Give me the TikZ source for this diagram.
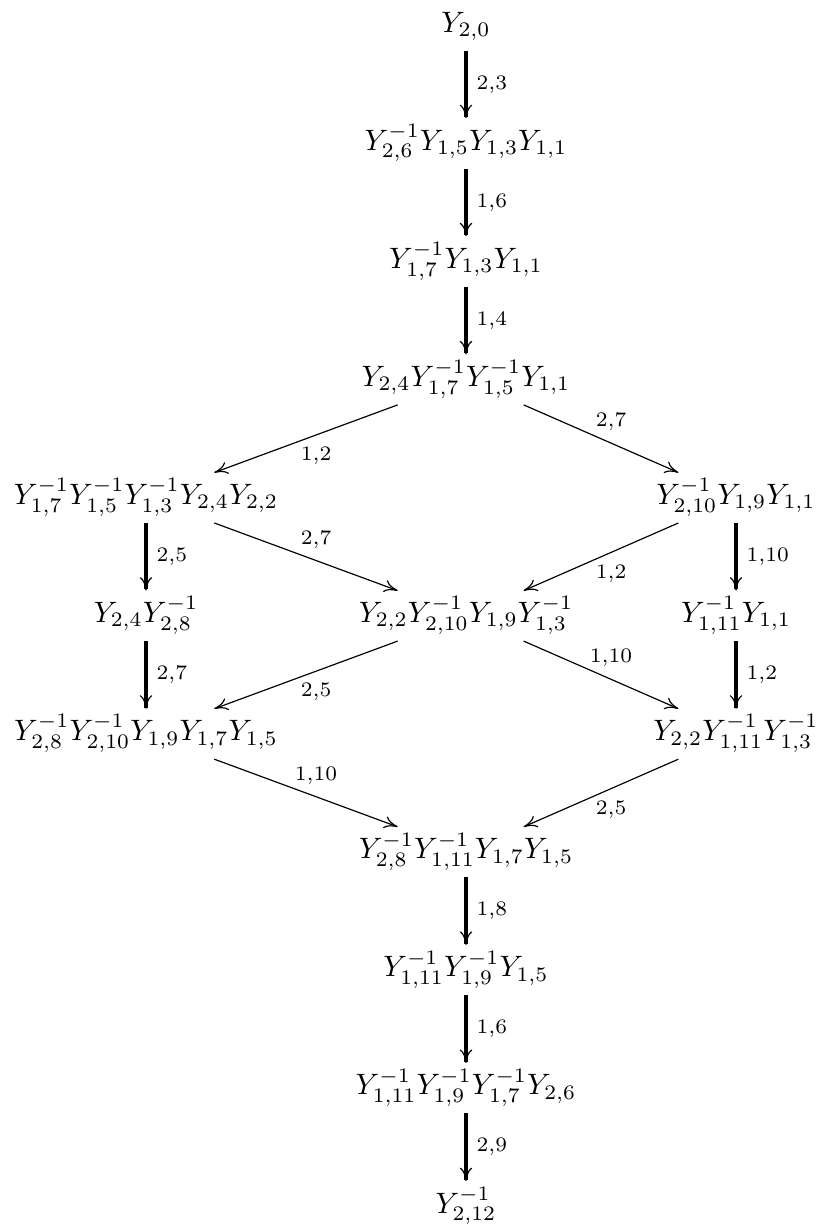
\documentclass[tikz,border=0pt]{standalone}
\usetikzlibrary{arrows.meta}
\begin{document}
\begin{tikzpicture}[x=0.339pt,y=-0.339pt,
  ent/.style={anchor=base, inner sep=0pt, outer sep=0pt, text height=10.8pt, text depth=6.3pt},
  tip/.style={-{Computer Modern Rightarrow[length=4.6pt, width=4.2pt, line width=0.4pt 0 1]}},
  vert/.style={tip, line width=1.15pt},
  diag/.style={tip, line width=0.4pt},
  lab/.style={inner sep=0pt},
  labr/.style={lab, midway, anchor=west, xshift=3pt},
  labb/.style={lab, midway, anchor=center, xshift=3.4pt, yshift=-5.8pt},
  laba/.style={lab, midway, anchor=center, xshift=3.4pt, yshift=5.8pt}]
\useasboundingbox (0,0) rectangle (817,1229);
% nodes (x, baseline)
\node[ent] (Y0) at (466,32) {$Y_{2,0}$};
\node[ent] (n1) at (466,150.1) {$Y_{2,6}^{-1}Y_{1,5}Y_{1,3}Y_{1,1}$};
\node[ent] (n2) at (466,268.2) {$Y_{1,7}^{-1}Y_{1,3}Y_{1,1}$};
\node[ent] (n3) at (466,386.3) {$Y_{2,4}Y_{1,7}^{-1}Y_{1,5}^{-1}Y_{1,1}$};
\node[ent] (L1) at (146,504.4) {$Y_{1,7}^{-1}Y_{1,5}^{-1}Y_{1,3}^{-1}Y_{2,4}Y_{2,2}$};
\node[ent] (R1) at (736,504.4) {$Y_{2,10}^{-1}Y_{1,9}Y_{1,1}$};
\node[ent] (L2) at (146,622.5) {$Y_{2,4}Y_{2,8}^{-1}$};
\node[ent] (M2) at (466,622.5) {$Y_{2,2}Y_{2,10}^{-1}Y_{1,9}Y_{1,3}^{-1}$};
\node[ent] (R2) at (736,622.5) {$Y_{1,11}^{-1}Y_{1,1}$};
\node[ent] (L3) at (146,740.6) {$Y_{2,8}^{-1}Y_{2,10}^{-1}Y_{1,9}Y_{1,7}Y_{1,5}$};
\node[ent] (R3) at (736,740.6) {$Y_{2,2}Y_{1,11}^{-1}Y_{1,3}^{-1}$};
\node[ent] (n4) at (466,858.7) {$Y_{2,8}^{-1}Y_{1,11}^{-1}Y_{1,7}Y_{1,5}$};
\node[ent] (n5) at (466,976.8) {$Y_{1,11}^{-1}Y_{1,9}^{-1}Y_{1,5}$};
\node[ent] (n6) at (466,1094.9) {$Y_{1,11}^{-1}Y_{1,9}^{-1}Y_{1,7}^{-1}Y_{2,6}$};
\node[ent] (n7) at (466,1213) {$Y_{2,12}^{-1}$};
% vertical arrows
\draw[vert] (Y0) -- node[labr] {$\scriptstyle 2,3$} (n1);
\draw[vert] (n1) -- node[labr] {$\scriptstyle 1,6$} (n2);
\draw[vert] (n2) -- node[labr] {$\scriptstyle 1,4$} (n3);
\draw[vert] (L1) -- node[labr] {$\scriptstyle 2,5$} (L2);
\draw[vert] (L2) -- node[labr] {$\scriptstyle 2,7$} (L3);
\draw[vert] (R1) -- node[labr] {$\scriptstyle 1,10$} (R2);
\draw[vert] (R2) -- node[labr] {$\scriptstyle 1,2$} (R3);
\draw[vert] (n4) -- node[labr] {$\scriptstyle 1,8$} (n5);
\draw[vert] (n5) -- node[labr] {$\scriptstyle 1,6$} (n6);
\draw[vert] (n6) -- node[labr] {$\scriptstyle 2,9$} (n7);
% diagonal arrows
\draw[diag] (n3) -- node[labb] {$\scriptstyle 1,2$} (L1);
\draw[diag] (n3) -- node[laba] {$\scriptstyle 2,7$} (R1);
\draw[diag] (L1) -- node[laba] {$\scriptstyle 2,7$} (M2);
\draw[diag] (R1) -- node[labb] {$\scriptstyle 1,2$} (M2);
\draw[diag] (M2) -- node[labb] {$\scriptstyle 2,5$} (L3);
\draw[diag] (M2) -- node[laba] {$\scriptstyle 1,10$} (R3);
\draw[diag] (L3) -- node[laba] {$\scriptstyle 1,10$} (n4);
\draw[diag] (R3) -- node[labb] {$\scriptstyle 2,5$} (n4);
\end{tikzpicture}
\end{document}
